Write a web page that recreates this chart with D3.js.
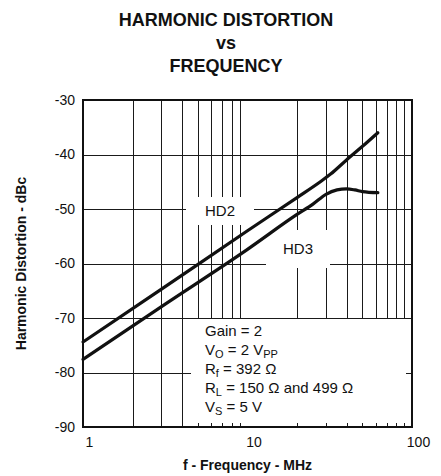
<!DOCTYPE html>
<html>
<head>
<meta charset="utf-8">
<script src="https://cdn.jsdelivr.net/npm/d3@7"></script>
<style>
  html, body { margin: 0; padding: 0; background: #fff; }
  svg { display: block; }
  text { font-family: "Liberation Sans", Arial, Helvetica, sans-serif; fill: #111; }
</style>
</head>
<body>
<svg id="chart" width="441" height="476"></svg>
<script>
// ---- data ----
const titleLines = ["HARMONIC DISTORTION", "vs", "FREQUENCY"];
const xTickValues = [1, 10, 100];
const xTickLabels = ["1", "10", "100"];
const yTickValues = [-90, -80, -70, -60, -50, -40, -30];
const yTickLabels = ["-90", "-80", "-70", "-60", "-50", "-40", "-30"];
const gridFreqs = [2, 3, 4, 5, 6, 7, 8, 9, 20, 30, 40, 50, 60, 70, 80, 90];

const hd2Freq = [1, 3, 10, 20, 28, 32, 40, 50, 62];
const hd2Db   = [-74.4, -64.7, -54.0, -47.9, -44.9, -43.6, -41.0, -38.5, -36.0];

const hd3Freq = [1, 3, 10, 20, 25, 30, 35, 40, 45, 50, 62];
const hd3Db   = [-77.6, -67.9, -57.4, -51.0, -49.1, -47.3, -46.5, -46.3, -46.5, -46.8, -47.0];

const seriesNames = ["HD2", "HD3"];
const legendLines = [
  [{t: "Gain = 2"}],
  [{t: "V"}, {t: "O", sub: true}, {t: " = 2 V"}, {t: "PP", sub: true}],
  [{t: "R"}, {t: "f", sub: true}, {t: " = 392 \u03A9"}],
  [{t: "R"}, {t: "L", sub: true}, {t: " = 150 \u03A9 and 499 \u03A9"}],
  [{t: "V"}, {t: "S", sub: true}, {t: " = 5 V"}]
];
const xTitle = "f - Frequency - MHz";
const yTitle = "Harmonic Distortion - dBc";

// ---- layout ----
const L = 83, R = 412, T = 100, B = 427;
const svg = d3.select("#chart");
const x = d3.scaleLog().domain([1, 100]).range([L, R]);
const y = d3.scaleLinear().domain([-90, -30]).range([B, T]);

// gridlines
const grid = svg.append("g").attr("stroke", "#1a1a1a").attr("stroke-width", 1);
grid.selectAll("line.v").data(gridFreqs).join("line")
  .attr("x1", d => Math.round(x(d)) + 0.5).attr("x2", d => Math.round(x(d)) + 0.5)
  .attr("y1", T).attr("y2", B);
grid.selectAll("line.h").data(yTickValues.slice(1, -1)).join("line")
  .attr("x1", L).attr("x2", R)
  .attr("y1", d => Math.round(y(d)) + 0.5).attr("y2", d => Math.round(y(d)) + 0.5);

// white label boxes
const boxes = svg.append("g").attr("fill", "#fff");
boxes.append("rect").attr("x", 186).attr("y", 197).attr("width", 68).attr("height", 28);
boxes.append("rect").attr("x", 266).attr("y", 230).attr("width", 64).attr("height", 38);
boxes.append("rect").attr("x", 191).attr("y", 319).attr("width", 215).attr("height", 104);

// curves
const line = d3.line().x(d => x(d[0])).y(d => y(d[1])).curve(d3.curveMonotoneX);
const hd2 = hd2Freq.map((f, i) => [f, hd2Db[i]]);
const hd3 = hd3Freq.map((f, i) => [f, hd3Db[i]]);
svg.selectAll("path.curve").data([hd2, hd3]).join("path")
  .attr("class", "curve")
  .attr("d", line)
  .attr("fill", "none").attr("stroke", "#111").attr("stroke-width", 3.2)
  .attr("stroke-linecap", "round").attr("stroke-linejoin", "round");

// frame
svg.append("rect").attr("x", L).attr("y", T).attr("width", R - L).attr("height", B - T)
  .attr("fill", "none").attr("stroke", "#111").attr("stroke-width", 2);

// axes (labels only)
const yAxis = d3.axisLeft(y).tickValues(yTickValues).tickFormat((d, i) => yTickLabels[i]).tickSize(0).tickPadding(8);
const yg = svg.append("g").attr("transform", `translate(${L},0)`).call(yAxis);
yg.select(".domain").remove();
yg.selectAll("text").attr("font-size", 14).attr("font-family", "Liberation Sans, Arial, sans-serif").attr("fill", "#111");

const xAxis = d3.axisBottom(x).tickValues(xTickValues).tickFormat((d, i) => xTickLabels[i]).tickSize(0).tickPadding(10);
const xg = svg.append("g").attr("transform", `translate(6,${B})`).call(xAxis);
xg.select(".domain").remove();
xg.selectAll("text").attr("font-size", 14).attr("font-family", "Liberation Sans, Arial, sans-serif").attr("fill", "#111");

// series labels
svg.append("text").attr("x", 220).attr("y", 216).attr("text-anchor", "middle")
  .attr("font-size", 15).text(seriesNames[0]);
svg.append("text").attr("x", 298).attr("y", 254).attr("text-anchor", "middle")
  .attr("font-size", 15).text(seriesNames[1]);

// legend text
const lg = svg.append("g");
legendLines.forEach((segs, i) => {
  const t = lg.append("text").attr("x", 205).attr("y", 336 + i * 19).attr("font-size", 15);
  let shifted = false;
  segs.forEach(s => {
    const ts = t.append("tspan").text(s.t);
    if (s.sub) { ts.attr("font-size", 11).attr("dy", shifted ? 0 : 3); shifted = true; }
    else if (shifted) { ts.attr("dy", -3); shifted = false; }
  });
});

// titles
titleLines.forEach((s, i) => {
  svg.append("text").attr("x", 226).attr("y", [26, 49, 72][i]).attr("text-anchor", "middle")
    .attr("font-size", 18).attr("font-weight", "bold").text(s);
});
svg.append("text").attr("x", (L + R) / 2).attr("y", 470).attr("text-anchor", "middle")
  .attr("font-size", 14).attr("font-weight", "bold").text(xTitle);
svg.append("text").attr("transform", `translate(26,${(T + B) / 2}) rotate(-90)`)
  .attr("text-anchor", "middle").attr("font-size", 14).attr("font-weight", "bold").text(yTitle);
</script>
</body>
</html>
